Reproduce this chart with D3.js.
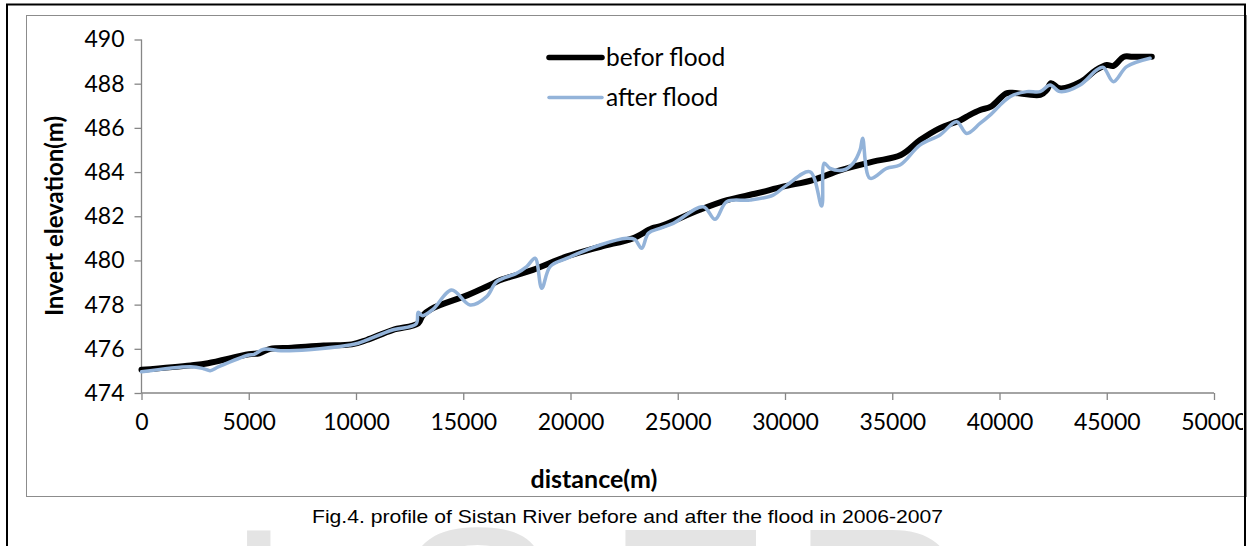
<!DOCTYPE html>
<html><head><meta charset="utf-8">
<script src="https://cdn.jsdelivr.net/npm/d3@7"></script>
<style>html,body{margin:0;padding:0;background:#fff;overflow:hidden}</style>
</head><body>
<svg id="c" width="1248" height="546"></svg>
<script>
const beforeDist = [0, 2300, 3100, 5000, 5500, 6000, 7000, 8500, 9800, 10500, 11700, 12900, 13100, 13500, 15200, 16250, 16700, 18250, 19800, 21400, 22900, 23800, 24200, 26000, 27300, 28700, 29900, 31300, 32600, 34100, 35400, 36300, 37200, 38200, 38600, 39100, 39600, 40300, 40600, 41900, 42200, 42400, 42800, 43800, 44500, 45000, 45300, 45800, 46200, 47100];
const beforeElev = [475.05, 475.25, 475.35, 475.75, 475.8, 476.0, 476.05, 476.15, 476.2, 476.4, 476.85, 477.15, 477.5, 477.8, 478.43, 478.89, 479.1, 479.57, 480.17, 480.62, 481.0, 481.45, 481.55, 482.28, 482.73, 483.04, 483.34, 483.64, 484.09, 484.47, 484.77, 485.45, 485.98, 486.36, 486.58, 486.81, 486.96, 487.56, 487.59, 487.49, 487.71, 488.02, 487.79, 488.09, 488.62, 488.85, 488.8, 489.22, 489.22, 489.22];
const afterDist = [0, 2300, 2900, 3200, 3600, 5000, 5250, 5700, 6500, 7800, 9700, 10100, 11700, 12800, 12900, 13100, 13600, 14460, 15320, 16090, 16560, 17490, 17960, 18350, 18660, 19050, 19820, 21380, 22620, 23000, 23320, 23630, 24170, 24790, 26190, 26740, 27280, 28370, 29450, 30080, 31170, 31710, 31830, 32100, 32720, 33180, 33500, 33620, 33960, 34740, 35360, 36290, 37230, 38000, 38470, 39090, 39560, 40490, 41270, 41890, 42360, 42820, 43760, 44530, 44840, 45310, 45930, 47020];
const afterElev = [474.96, 475.19, 475.1, 475.01, 475.19, 475.72, 475.75, 475.98, 475.91, 475.96, 476.17, 476.25, 476.85, 477.12, 477.65, 477.5, 477.8, 478.66, 477.98, 478.36, 479.04, 479.42, 479.72, 480.1, 478.74, 479.72, 480.09, 480.7, 481.0, 480.95, 480.55, 481.23, 481.45, 481.68, 482.43, 481.86, 482.66, 482.73, 482.96, 483.41, 484.01, 482.46, 484.4, 484.17, 484.09, 484.4, 485.0, 485.53, 483.72, 484.17, 484.32, 485.22, 485.68, 486.28, 485.75, 486.2, 486.58, 487.41, 487.64, 487.64, 487.94, 487.64, 487.94, 488.62, 488.74, 488.09, 488.77, 489.15];
const xTicks = [0, 5000, 10000, 15000, 20000, 25000, 30000, 35000, 40000, 45000, 50000];
const yTicks = [474, 476, 478, 480, 482, 484, 486, 488, 490];
const seriesNames = ["befor flood", "after flood"];

const svg = d3.select("#c");
const axisColor = "#868686";
const font = "Lato, 'Open Sans', sans-serif";

// watermark
const wm = svg.append("g").attr("fill", "#e4e4e4").attr("font-family", "'Liberation Sans', Arial, sans-serif").attr("font-size", 250);
[["I", 224], ["S", 393], ["E", 605], ["R", 790]].forEach(([t, x]) => wm.append("text").attr("x", x).attr("y", 703).text(t));

// frames
svg.append("rect").attr("x", 26.5).attr("y", 15.5).attr("width", 1220).attr("height", 481).attr("fill", "#fff").attr("stroke", "#8c8c8c").attr("stroke-width", 1);
svg.append("path").attr("d", "M7,560V4.5H1245V560").attr("fill", "none").attr("stroke", "#000").attr("stroke-width", 2);

svg.append("defs").append("clipPath").attr("id", "cp").append("rect").attr("x", 27).attr("y", 16).attr("width", 1216).attr("height", 480);
const g = svg.append("g").attr("clip-path", "url(#cp)");

const x = d3.scaleLinear().domain([0, 50000]).range([141.5, 1214]);
const y = d3.scaleLinear().domain([474, 490]).range([393, 39.5]);

const ya = g.append("g").attr("transform", "translate(141.5,0)")
  .call(d3.axisLeft(y).tickValues(yTicks).tickSize(7).tickPadding(10).tickFormat(d3.format("d")));
const xa = g.append("g").attr("transform", "translate(0,393)")
  .call(d3.axisBottom(x).tickValues(xTicks).tickSize(7).tickPadding(14).tickFormat(d3.format("d")));
[ya, xa].forEach(a => {
  a.select(".domain").attr("stroke", axisColor).attr("stroke-width", 1.3);
  a.selectAll(".tick line").attr("stroke", axisColor).attr("stroke-width", 1.3);
  a.selectAll("text").attr("font-family", font).attr("font-size", 23).attr("fill", "#000");
});
ya.select(".domain").attr("d", "M0,39.5V393");
xa.select(".domain").attr("d", "M141.5,0H1214");
xa.selectAll("text").attr("dy", "0.71em");

const line = d3.line().x(d => x(d[0])).y(d => y(d[1])).curve(d3.curveCatmullRom.alpha(0.5));
const before = beforeDist.map((d, i) => [d, beforeElev[i]]);
const after = afterDist.map((d, i) => [d, afterElev[i]]);
g.append("path").datum(before).attr("d", line).attr("fill", "none").attr("stroke", "#000").attr("stroke-width", 6).attr("stroke-linejoin", "round").attr("stroke-linecap", "round");
g.append("path").datum(after).attr("d", line).attr("fill", "none").attr("stroke", "#93b3d9").attr("stroke-width", 3.5).attr("stroke-linejoin", "round").attr("stroke-linecap", "round");

// legend
const leg = svg.append("g");
[["#000", 5.5, 57.5], ["#93b3d9", 3.5, 97.5]].forEach(([c, w, ly], i) => {
  leg.append("line").attr("x1", 549).attr("x2", 602).attr("y1", ly).attr("y2", ly).attr("stroke", c).attr("stroke-width", w).attr("stroke-linecap", "round");
  leg.append("text").attr("x", 606).attr("y", ly + 8).attr("font-family", font).attr("font-size", 24.5).attr("fill", "#000").text(seriesNames[i]);
});

// axis titles
svg.append("text").attr("transform", "translate(63,216) rotate(-90)").attr("text-anchor", "middle")
  .attr("font-family", font).attr("font-weight", "bold").attr("font-size", 24).text("Invert elevation(m)");
svg.append("text").attr("x", 594).attr("y", 488).attr("text-anchor", "middle")
  .attr("font-family", font).attr("font-weight", "bold").attr("font-size", 25).text("distance(m)");

// caption
svg.append("text").attr("x", 312).attr("y", 523).attr("font-family", "'Liberation Sans Narrow', 'Liberation Sans', Arial, sans-serif")
  .attr("font-size", 19).attr("textLength", 631).attr("lengthAdjust", "spacingAndGlyphs")
  .text("Fig.4. profile of Sistan River before and after the flood in 2006-2007");
</script>
</body></html>
